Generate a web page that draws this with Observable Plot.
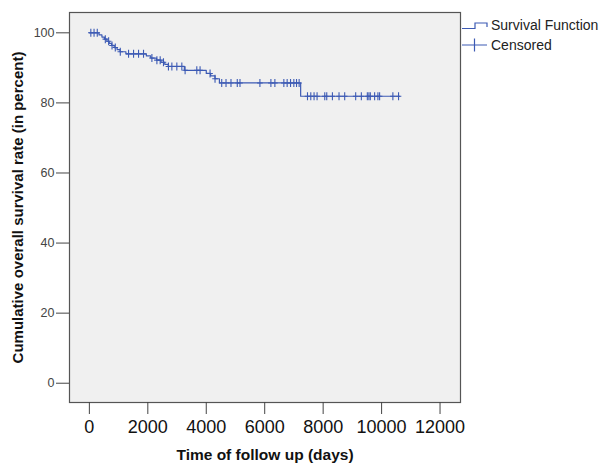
<!DOCTYPE html>
<html><head><meta charset="utf-8">
<script src="https://cdn.jsdelivr.net/npm/d3@7"></script>
<script src="https://cdn.jsdelivr.net/npm/@observablehq/plot@0.6"></script>
<style>
body{margin:0;background:#fff;font-family:"Liberation Sans",Arial,sans-serif;}
#wrap{position:relative;width:609px;height:464px;}
#legend{position:absolute;left:462px;top:15px;font-size:14px;color:#222;line-height:20px;}
#legend div{display:flex;align-items:center;height:20px;}
#legend svg{margin-right:3px;}
</style></head><body>
<div id="wrap"><div id="chart"></div>
<div id="legend">
  <div><svg width="26" height="20"><path d="M0,13.5H13V8H25V12" fill="none" stroke="#3c5ab4" stroke-width="1.2"/></svg>Survival Function</div>
  <div><svg width="26" height="20"><path d="M0,10H25M12.5,3.5V16.5" fill="none" stroke="#3c5ab4" stroke-width="1.2"/></svg>Censored</div>
</div></div>
<script>
// Kaplan–Meier step function (days, survival %)
const eventDays = [0, 330, 430, 520, 600, 680, 760, 850, 950, 1050, 1250, 1950, 2100, 2300, 2450, 2580, 2700, 3250, 4000, 4150, 4300, 4450, 7230, 10620];
const survival  = [100, 99.4, 98.8, 98.2, 97.6, 97.0, 96.4, 95.8, 95.2, 94.6, 94.0, 93.4, 92.8, 92.2, 91.6, 91.0, 90.4, 89.3, 88.4, 87.7, 86.9, 85.7, 81.9, 81.9];
// censored observation times (days)
const censoredDays = [50, 160, 270, 546, 659, 775, 887, 1058, 1341, 1512, 1683, 1853, 2140, 2311, 2423, 2536, 2706, 2823, 2993, 3164, 3276, 3676, 3788, 4130, 4300,
  4529, 4676, 4846, 5061, 5154, 5836, 6212, 6348, 6655, 6768, 6884, 6997, 7089, 7178,
  7464, 7577, 7689, 7792, 8055, 8123, 8317, 8543, 8737, 9113, 9307, 9512, 9566, 9614, 9761, 9874, 9932, 10386, 10580];
const xTicks = [0, 2000, 4000, 6000, 8000, 10000, 12000];
const yTicks = [0, 20, 40, 60, 80, 100];
const xTitle = "Time of follow up (days)";
const yTitle = "Cumulative overall survival rate (in percent)";

const curve = eventDays.map((t, i) => ({t, s: survival[i]}));
const survAt = t => survival[d3.bisectRight(eventDays, t) - 1];
const censored = censoredDays.map(t => ({t, s: survAt(t)}));
const blue = "#3c5ab4";
const plusSymbol = {draw(ctx, size) {
  const r = Math.sqrt(size / Math.PI);
  ctx.moveTo(0, -r); ctx.lineTo(0, r);
  ctx.moveTo(-r * 0.7, 0); ctx.lineTo(r * 0.7, 0);
}};

const chart = Plot.plot({
  width: 609, height: 464,
  marginLeft: 69, marginRight: 149, marginTop: 12, marginBottom: 62,
  style: {fontFamily: "'Liberation Sans', Arial, sans-serif", background: "#fff", overflow: "visible"},
  x: {domain: [-680, 12700]},
  y: {domain: [-5.5, 105.8]},
  marks: [
    Plot.frame({fill: "#f0f0f0", stroke: "#555", strokeWidth: 1.2}),
    Plot.axisX({ticks: xTicks, tickFormat: d => String(d), tickSize: 12, tickPadding: 6, fontSize: 18, label: null, stroke: "#444", fill: "#111"}),
    Plot.axisY({ticks: yTicks, tickSize: 13, tickPadding: 2, fontSize: 12.5, label: null, stroke: "#444", fill: "#444"}),
    Plot.line(curve, {x: "t", y: "s", curve: "step-after", stroke: blue, strokeWidth: 1.2}),
    Plot.dot(censored, {x: "t", y: "s", symbol: plusSymbol, r: 4, stroke: blue, strokeWidth: 1.1, fill: "none"}),
    Plot.text([xTitle], {text: d => d, frameAnchor: "bottom", dy: 53, textAnchor: "middle", lineAnchor: "middle", fontWeight: "bold", fontSize: 15.5, fill: "#111"}),
    Plot.text([yTitle], {text: d => d, frameAnchor: "left", dx: -51, rotate: -90, textAnchor: "middle", lineAnchor: "middle", fontWeight: "bold", fontSize: 15, fill: "#111"})
  ]
});
document.getElementById("chart").appendChild(chart);
</script>
</body></html>
